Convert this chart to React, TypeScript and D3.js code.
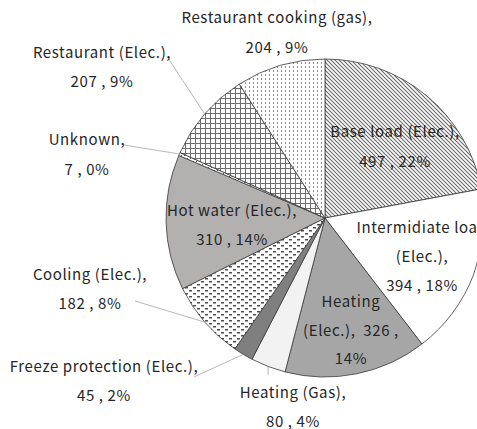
import React from "react";
import * as d3 from "d3";

const categories = [
  "Base load (Elec.)",
  "Intermidiate load (Elec.)",
  "Heating (Elec.)",
  "Heating (Gas)",
  "Freeze protection (Elec.)",
  "Cooling (Elec.)",
  "Hot water (Elec.)",
  "Unknown",
  "Restaurant (Elec.)",
  "Restaurant cooking (gas)",
];
const values = [497, 394, 326, 80, 45, 182, 310, 7, 207, 204];
const percentLabels = ["22%", "18%", "14%", "4%", "2%", "8%", "14%", "0%", "9%", "9%"];

const W = 477;
const H = 429;
const CX = 325;
const CY = 218;
const R = 159;

const fills = [
  "url(#pBase)",
  "#ffffff",
  "#a6a6a6",
  "#f2f2f2",
  "#7f7f7f",
  "url(#pCool)",
  "#b3b0b0",
  "url(#pUnknown)",
  "url(#pGrid)",
  "url(#pDots)",
];

type Lay = { lines: string[]; x: number; y: number; gap: number; leader?: [number, number] | null };

function buildLabels(): Lay[] {
  const v = values;
  const p = percentLabels;
  const c = categories;
  return [
    { lines: [c[0] + ",", `${v[0]} , ${p[0]}`], x: 395, y: 137, gap: 30 },
    { lines: ["Intermidiate load", "(Elec.),", `${v[1]} , ${p[1]}`], x: 422, y: 233, gap: 29 },
    { lines: ["Heating", "(Elec.),  " + v[2] + " ,", p[2]], x: 351, y: 307, gap: 28.5 },
    { lines: [c[3] + ",", `${v[3]} , ${p[3]}`], x: 293, y: 398, gap: 29, leader: [268, 375] },
    { lines: [c[4] + ",", `${v[4]} , ${p[4]}`], x: 104, y: 372, gap: 29, leader: [194, 377] },
    { lines: [c[5] + ",", `${v[5]} , ${p[5]}`], x: 90, y: 280, gap: 29, leader: [135, 301] },
    { lines: [c[6] + ",", `${v[6]} , ${p[6]}`], x: 232, y: 216, gap: 29 },
    { lines: [c[7] + ",", `${v[7]} , ${p[7]}`], x: 87, y: 145, gap: 30, leader: [124, 145] },
    { lines: [c[8] + ",", `${v[8]} , ${p[8]}`], x: 102, y: 58, gap: 29, leader: [168, 58] },
    { lines: [c[9] + ",", `${v[9]} , ${p[9]}`], x: 277, y: 23, gap: 30 },
  ];
}

export default function App() {
  const pie = d3
    .pie<number>()
    .sort(null)
    .startAngle(0)
    .endAngle(2 * Math.PI)
    .value((d) => d);
  const arcs = pie(values);
  const arc = d3.arc<d3.PieArcDatum<number>>().innerRadius(0).outerRadius(R);
  const labels = buildLabels();

  return (
    <svg
      width={W}
      height={H}
      viewBox={`0 0 ${W} ${H}`}
      style={{ position: "absolute", left: 0, top: 0, background: "#fff" }}
      fontFamily="'Noto Sans CJK KR', 'Noto Sans', sans-serif"
    >
      <defs>
        <pattern id="pBase" patternUnits="userSpaceOnUse" width={4} height={4}>
          <rect width={4} height={4} fill="#ffffff" />
          <path d="M-1,-1 L5,5 M-1,3 L1,5 M3,-1 L5,1" stroke="#6a6a6a" strokeWidth={1.1} />
        </pattern>
        <pattern id="pGrid" patternUnits="userSpaceOnUse" width={5} height={5}>
          <rect width={5} height={5} fill="#ffffff" />
          <path d="M0,0.5 H5 M0.5,0 V5" stroke="#6e6e6e" strokeWidth={1} />
        </pattern>
        <pattern id="pDots" patternUnits="userSpaceOnUse" width={4} height={4}>
          <rect width={4} height={4} fill="#ffffff" />
          <rect x={0} y={0} width={1} height={2} fill="#8c8c8c" />
        </pattern>
        <pattern id="pCool" patternUnits="userSpaceOnUse" width={8} height={6}>
          <rect width={8} height={6} fill="#ffffff" />
          <rect x={0} y={0} width={3} height={1.5} fill="#4d4d4d" />
          <rect x={4} y={3} width={3} height={1.5} fill="#4d4d4d" />
        </pattern>
        <pattern id="pUnknown" patternUnits="userSpaceOnUse" width={3} height={3}>
          <rect width={3} height={3} fill="#ffffff" />
          <rect x={0} y={0} width={1} height={1} fill="#666" />
        </pattern>
      </defs>
      <g transform={`translate(${CX},${CY})`}>
        {arcs.map((a, i) => (
          <path
            key={categories[i]}
            d={arc(a) || ""}
            fill={fills[i]}
            stroke="#3a3a3a"
            strokeWidth={0.8}
            strokeLinejoin="round"
          />
        ))}
      </g>
      {labels.map((l, i) => {
        if (!l.leader) return null;
        const a = arcs[i];
        const mid = (a.startAngle + a.endAngle) / 2;
        const ex = CX + R * Math.sin(mid);
        const ey = CY - R * Math.cos(mid);
        return (
          <line
            key={"ld" + i}
            x1={l.leader[0]}
            y1={l.leader[1]}
            x2={ex}
            y2={ey}
            stroke="#a6a6a6"
            strokeWidth={0.8}
          />
        );
      })}
      {labels.map((l, i) => (
        <text
          key={"lb" + i}
          x={l.x}
          y={l.y}
          textAnchor="middle"
          fontSize={15}
          letterSpacing={0.6}
          fill="#262626"
        >
          {l.lines.map((t, j) => (
            <tspan key={j} x={l.x} y={l.y + j * l.gap} style={{ whiteSpace: "pre" }}>
              {t}
            </tspan>
          ))}
        </text>
      ))}
    </svg>
  );
}
